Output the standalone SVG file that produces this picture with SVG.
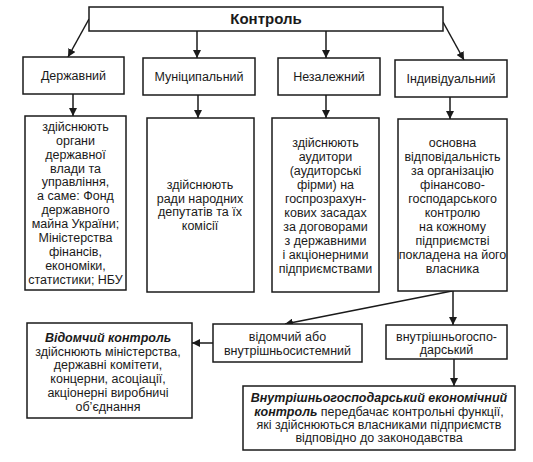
<svg xmlns="http://www.w3.org/2000/svg" width="533" height="462" viewBox="0 0 533 462">
<defs>
<marker id="ah" viewBox="0 0 10 10" refX="10" refY="5" markerWidth="8" markerHeight="8" markerUnits="userSpaceOnUse" orient="auto">
<path d="M0,0 L10,5 L0,10 Z" fill="#1a1a1a"/>
</marker>
<style>
.b{fill:#fff;stroke:#1a1a1a;stroke-width:1.5}
.t{font-family:"Liberation Sans",Arial,sans-serif;font-size:12.5px;fill:#1a1a1a;text-anchor:middle}
.h{font-weight:bold;font-size:15px}
.bi{font-weight:bold;font-style:italic}
.c{fill:none;stroke:#1a1a1a;stroke-width:1.5;marker-end:url(#ah)}
</style>
</defs>
<rect width="533" height="462" fill="#fff"/>
<g id="connectors">
<line class="c" x1="89" y1="19" x2="68" y2="57"/>
<line class="c" x1="197" y1="31" x2="197" y2="58"/>
<line class="c" x1="326" y1="31" x2="326" y2="58"/>
<line class="c" x1="443" y1="22" x2="464" y2="60"/>
<line class="c" x1="73" y1="94" x2="73" y2="116"/>
<line class="c" x1="198" y1="95" x2="198" y2="118"/>
<line class="c" x1="326" y1="95" x2="326" y2="118"/>
<line class="c" x1="450" y1="97" x2="450" y2="119"/>
<line class="c" x1="452" y1="291" x2="285" y2="324"/>
<line class="c" x1="453" y1="291" x2="453" y2="325"/>
<line class="c" x1="213" y1="343" x2="192" y2="343"/>
<line class="c" x1="454" y1="359" x2="454" y2="386"/>
</g>
<g id="kontrol">
<rect class="b" x="89" y="7" width="354" height="24"/>
<text class="t h" x="266" y="24">Контроль</text>
</g>
<g id="derzhavnyi">
<rect class="b" x="23" y="57" width="101" height="37"/>
<text class="t" x="73.5" y="80">Державний</text>
</g>
<g id="munitsypalnyi">
<rect class="b" x="143" y="58" width="112" height="37"/>
<text class="t" x="199" y="81">Муніципальний</text>
</g>
<g id="nezalezhnyi">
<rect class="b" x="278" y="58" width="102" height="37"/>
<text class="t" x="329" y="81">Незалежний</text>
</g>
<g id="indyvidualnyi">
<rect class="b" x="395" y="60" width="112" height="37"/>
<text class="t" x="451" y="83">Індивідуальний</text>
</g>
<g id="derzhavnyi-detail">
<rect class="b" x="25" y="116" width="101" height="174"/>
<text class="t" x="75.5" y="131">здійснюють</text>
<text class="t" x="75.5" y="145">органи</text>
<text class="t" x="75.5" y="159">державної</text>
<text class="t" x="75.5" y="173">влади та</text>
<text class="t" x="75.5" y="186">управління,</text>
<text class="t" x="75.5" y="200">а саме: Фонд</text>
<text class="t" x="75.5" y="214">державного</text>
<text class="t" x="75.5" y="228">майна України;</text>
<text class="t" x="75.5" y="242">Міністерства</text>
<text class="t" x="75.5" y="256">фінансів,</text>
<text class="t" x="75.5" y="270">економіки,</text>
<text class="t" x="75.5" y="284">статистики; НБУ</text>
</g>
<g id="munitsypalnyi-detail">
<rect class="b" x="147" y="118" width="107" height="174"/>
<text class="t" x="200" y="189">здійснюють</text>
<text class="t" x="200" y="203">ради народних</text>
<text class="t" x="200" y="216">депутатів та їх</text>
<text class="t" x="200" y="230">комісії</text>
</g>
<g id="nezalezhnyi-detail">
<rect class="b" x="272" y="118" width="107" height="174"/>
<text class="t" x="325.5" y="147">здійснюють</text>
<text class="t" x="325.5" y="161">аудитори</text>
<text class="t" x="325.5" y="175">(аудиторські</text>
<text class="t" x="325.5" y="189">фірми) на</text>
<text class="t" x="325.5" y="203">госпрозрахун-</text>
<text class="t" x="325.5" y="217">кових засадах</text>
<text class="t" x="325.5" y="231">за договорами</text>
<text class="t" x="325.5" y="245">з державними</text>
<text class="t" x="325.5" y="259">і акціонерними</text>
<text class="t" x="325.5" y="273">підприємствами</text>
</g>
<g id="indyvidualnyi-detail">
<rect class="b" x="398" y="119" width="109" height="172"/>
<text class="t" x="452.5" y="147">основна</text>
<text class="t" x="452.5" y="161">відповідальність</text>
<text class="t" x="452.5" y="175">за організацію</text>
<text class="t" x="452.5" y="189">фінансово-</text>
<text class="t" x="452.5" y="203">господарського</text>
<text class="t" x="452.5" y="217">контролю</text>
<text class="t" x="452.5" y="231">на кожному</text>
<text class="t" x="452.5" y="245">підприємстві</text>
<text class="t" x="452.5" y="259">покладена на його</text>
<text class="t" x="452.5" y="273">власника</text>
</g>
<g id="vidomchyi-abo">
<rect class="b" x="213" y="324" width="149" height="38"/>
<text class="t" x="287.5" y="341">відомчий або</text>
<text class="t" x="287.5" y="355">внутрішньосистемний</text>
</g>
<g id="vnutrishnohosp">
<rect class="b" x="386" y="325" width="121" height="34"/>
<text class="t" x="446.5" y="341">внутрішньогоспо-</text>
<text class="t" x="446.5" y="354">дарський</text>
</g>
<g id="vidomchyi-kontrol">
<rect class="b" x="27" y="323" width="165" height="95"/>
<text class="t bi" x="108" y="342">Відомчий контроль</text>
<text class="t" x="108" y="356">здійснюють міністерства,</text>
<text class="t" x="108" y="369">державні комітети,</text>
<text class="t" x="108" y="383">концерни, асоціації,</text>
<text class="t" x="108" y="397">акціонерні виробничі</text>
<text class="t" x="108" y="411">об’єднання</text>
</g>
<g id="vnutrishnohosp-kontrol">
<rect class="b" x="243" y="386" width="272" height="64"/>
<text class="t bi" x="379" y="402">Внутрішньогосподарський економічний</text>
<text class="t" x="379" y="416"><tspan class="bi">контроль</tspan> передбачає контрольні функції,</text>
<text class="t" x="379" y="429">які здійснюються власниками підприємств</text>
<text class="t" x="379" y="442">відповідно до законодавства</text>
</g>
</svg>
